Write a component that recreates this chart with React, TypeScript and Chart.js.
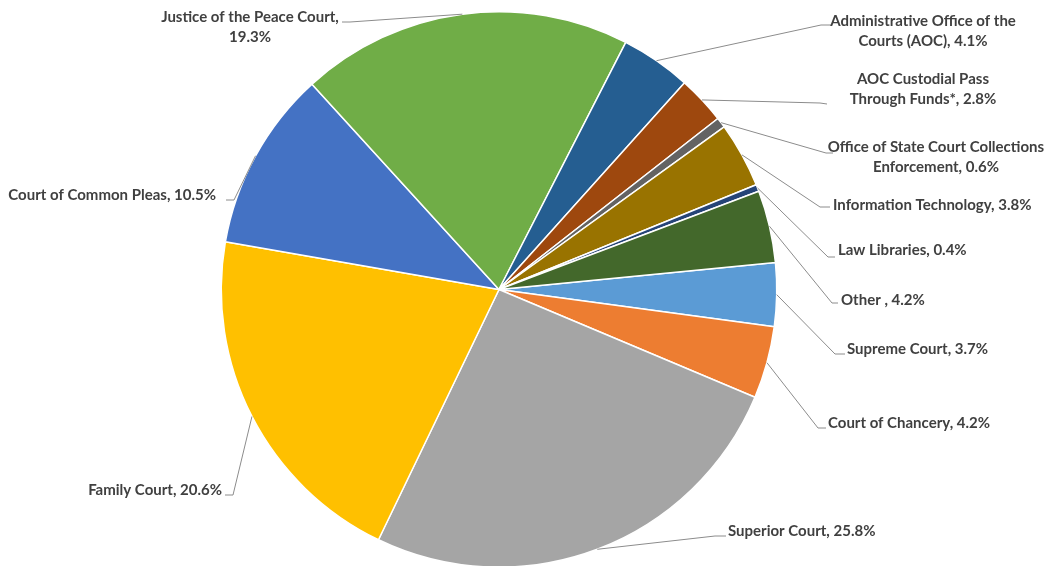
import React, { useEffect, useRef } from "react";
import { Chart, registerables } from "chart.js";

Chart.register(...registerables);

const categories: string[] = [
  "Supreme Court",
  "Court of Chancery",
  "Superior Court",
  "Family Court",
  "Court of Common Pleas",
  "Justice of the Peace Court",
  "Administrative Office of the Courts (AOC)",
  "AOC Custodial Pass Through Funds*",
  "Office of State Court Collections Enforcement",
  "Information Technology",
  "Law Libraries",
  "Other ",
];

const shares: number[] = [3.7, 4.2, 25.8, 20.6, 10.5, 19.3, 4.1, 2.8, 0.6, 3.8, 0.4, 4.2];

const labelLines: string[][] = [
  ["Supreme Court, 3.7%"],
  ["Court of Chancery, 4.2%"],
  ["Superior Court, 25.8%"],
  ["Family Court, 20.6%"],
  ["Court of Common Pleas, 10.5%"],
  ["Justice of the Peace Court,", "19.3%"],
  ["Administrative Office of the", "Courts (AOC), 4.1%"],
  ["AOC Custodial Pass", "Through Funds*, 2.8%"],
  ["Office of State Court Collections", "Enforcement, 0.6%"],
  ["Information Technology, 3.8%"],
  ["Law Libraries, 0.4%"],
  ["Other , 4.2%"],
];

const sliceColors: string[] = [
  "#5B9BD5",
  "#ED7D31",
  "#A5A5A5",
  "#FFC000",
  "#4472C4",
  "#70AD47",
  "#255E91",
  "#9E480E",
  "#636363",
  "#997300",
  "#264478",
  "#43682B",
];

// label layout: text anchor x, first line middle y, alignment, leader elbow and end
type LabelLayout = { tx: number; ty: number; align: CanvasTextAlign; ex: number; ey: number; lx: number; ly: number };
const labelLayout: LabelLayout[] = [
  { tx: 847, ty: 349, align: "left", ex: 835, ey: 354, lx: 845, ly: 354 },
  { tx: 828, ty: 423, align: "left", ex: 818, ey: 428, lx: 826, ly: 428 },
  { tx: 728, ty: 531, align: "left", ex: 715, ey: 536, lx: 726, ly: 536 },
  { tx: 222, ty: 490, align: "right", ex: 233, ey: 495, lx: 225, ly: 495 },
  { tx: 216, ty: 195, align: "right", ex: 234, ey: 200, lx: 226, ly: 200 },
  { tx: 250, ty: 17, align: "center", ex: 350, ey: 22, lx: 342, ly: 22 },
  { tx: 923, ty: 21, align: "center", ex: 821, ey: 25, lx: 831, ly: 25 },
  { tx: 923, ty: 79, align: "center", ex: 820, ey: 103, lx: 827, ly: 104 },
  { tx: 936, ty: 147, align: "center", ex: 826, ey: 153, lx: 833, ly: 153 },
  { tx: 833, ty: 205, align: "left", ex: 820, ey: 207, lx: 830, ly: 207 },
  { tx: 838, ty: 250, align: "left", ex: 828, ey: 257, lx: 835, ly: 257 },
  { tx: 841, ty: 300, align: "left", ex: 832, ey: 303, lx: 838, ly: 303 },
];

const labelPlugin = {
  id: "outsideLabels",
  afterDraw(chart: any) {
    const ctx: CanvasRenderingContext2D = chart.ctx;
    const meta = chart.getDatasetMeta(0);
    ctx.save();
    meta.data.forEach((arc: any, i: number) => {
      const p = arc.getProps(["x", "y", "startAngle", "endAngle", "outerRadius"], true);
      const mid = (p.startAngle + p.endAngle) / 2;
      const sx = p.x + Math.cos(mid) * p.outerRadius;
      const sy = p.y + Math.sin(mid) * p.outerRadius;
      const L = labelLayout[i];
      ctx.strokeStyle = "#8C8C8C";
      ctx.lineWidth = 1;
      ctx.beginPath();
      ctx.moveTo(sx, sy);
      ctx.lineTo(L.ex, L.ey);
      ctx.lineTo(L.lx, L.ly);
      ctx.stroke();
      ctx.fillStyle = "#404040";
      ctx.font = "bold 15px Lato";
      ctx.textAlign = L.align;
      ctx.textBaseline = "middle";
      labelLines[i].forEach((line, k) => {
        ctx.fillText(line, L.tx, L.ty + k * 20);
      });
    });
    ctx.restore();
  },
};

export default function App() {
  const ref = useRef<HTMLCanvasElement | null>(null);
  useEffect(() => {
    document.body.style.margin = "0";
    if (!ref.current) return;
    const chart = new Chart(ref.current, {
      type: "pie",
      data: {
        labels: categories,
        datasets: [
          {
            data: shares,
            backgroundColor: sliceColors,
            borderColor: "#FFFFFF",
            borderWidth: 1.5,
          },
        ],
      },
      options: {
        animation: false,
        responsive: true,
        maintainAspectRatio: false,
        rotation: 84.4,
        layout: { padding: { left: 220, right: 274, top: 11, bottom: 0 } },
        plugins: {
          legend: { display: false },
          tooltip: { enabled: false },
        },
      },
      plugins: [labelPlugin],
    });
    return () => chart.destroy();
  }, []);
  return (
    <div style={{ width: 1052, height: 568, position: "relative", background: "#fff" }}>
      <canvas ref={ref} />
    </div>
  );
}
